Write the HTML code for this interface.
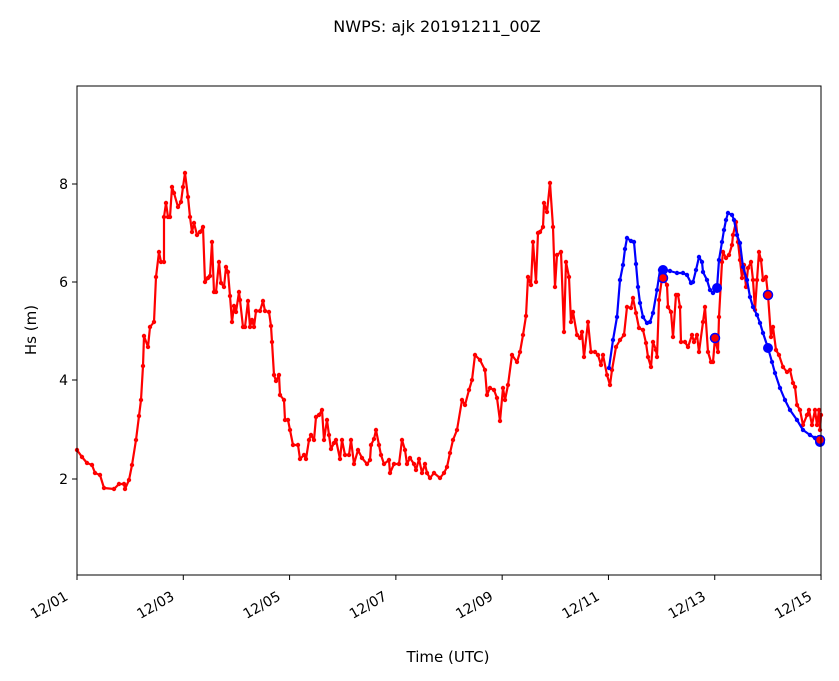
<!DOCTYPE html>
<html><head><meta charset="utf-8"><style>
html,body{margin:0;padding:0;background:#fff;}
svg{display:block;font-family:"DejaVu Sans","Liberation Sans",sans-serif;}
</style></head><body>
<svg id="s" width="839" height="681" xmlns="http://www.w3.org/2000/svg">
<rect width="839" height="681" fill="#fff"/>
<text x="437" y="32" font-size="16" text-anchor="middle">NWPS: ajk 20191211_00Z</text>
<g id="plot"></g>
<rect x="77" y="86" width="744" height="489" fill="none" stroke="#000" stroke-width="1"/>
<g font-size="14" text-anchor="end" fill="#000">
<line x1="72" y1="184" x2="77" y2="184" stroke="#000"/><text x="68" y="189">8</text>
<line x1="72" y1="282" x2="77" y2="282" stroke="#000"/><text x="68" y="287">6</text>
<line x1="72" y1="380" x2="77" y2="380" stroke="#000"/><text x="68" y="385">4</text>
<line x1="72" y1="479" x2="77" y2="479" stroke="#000"/><text x="68" y="484">2</text>
</g>
<g id="xt" font-size="14" text-anchor="end"></g>
<text x="36" y="330" font-size="15" text-anchor="middle" transform="rotate(-90 36 330)">Hs (m)</text>
<text x="448" y="662" font-size="15" text-anchor="middle">Time (UTC)</text>
</svg>
<script>
var red=[[77,450],[82,457],[87,463],[92,465],[95,473],[100,475],[104,488],[114,489],[119,484],[124,484],[125,489],[129,480],[132,465],[136,440],[139,416],[141,400],[143,366],[144,336],[148,347],[150,327],[154,322],[156,277],[159,252],[161,262],[164,262],[164,217],[166,203],[168,217],[170,217],[172,187],[174,193],[178,207],[181,202],[183,187],[185,173],[188,197],[190,217],[192,232],[194,223],[197,235],[200,232],[203,227],[205,282],[208,278],[210,276],[212,242],[214,292],[216,292],[219,262],[221,283],[224,287],[226,267],[228,272],[230,296],[232,322],[234,306],[236,312],[239,292],[240,300],[243,327],[245,327],[248,301],[250,327],[252,320],[254,327],[256,311],[260,311],[263,301],[265,311],[269,312],[271,326],[272,342],[274,375],[276,381],[279,375],[280,395],[284,400],[285,420],[288,420],[290,430],[293,445],[298,445],[300,459],[304,455],[306,459],[309,440],[311,435],[314,440],[316,417],[319,415],[322,410],[324,440],[327,420],[329,435],[331,449],[334,443],[336,440],[340,459],[342,440],[345,455],[349,455],[351,440],[354,464],[358,450],[362,458],[367,464],[370,460],[371,445],[374,439],[376,430],[379,445],[381,455],[384,464],[389,460],[390,473],[394,464],[399,464],[402,440],[405,450],[407,464],[410,458],[414,464],[416,470],[419,459],[422,473],[425,464],[427,473],[430,478],[434,473],[440,478],[444,473],[447,467],[450,453],[453,440],[457,430],[462,400],[465,405],[469,390],[472,380],[475,355],[480,360],[485,370],[487,395],[490,388],[494,390],[497,398],[500,421],[503,388],[505,400],[508,385],[512,355],[517,362],[520,352],[523,335],[526,316],[528,277],[531,285],[533,242],[536,282],[538,233],[540,232],[543,227],[544,203],[547,212],[550,183],[553,227],[555,287],[557,255],[561,252],[564,332],[566,262],[569,277],[571,322],[573,312],[577,335],[580,338],[582,332],[584,357],[588,322],[591,352],[595,352],[598,355],[601,365],[603,355],[607,375],[610,385],[612,370],[616,347],[620,340],[624,335],[627,307],[631,308],[633,298],[636,313],[639,328],[643,330],[646,343],[648,357],[651,367],[653,342],[656,350],[657,357],[659,300],[662,278],[664,280],[667,285],[668,307],[671,312],[673,337],[676,295],[678,295],[680,307],[681,342],[685,342],[688,347],[692,335],[694,342],[697,335],[699,352],[703,322],[705,307],[708,352],[711,362],[713,362],[715,338],[718,352],[719,317],[722,262],[723,252],[726,258],[729,255],[732,245],[733,235],[736,222],[738,242],[740,260],[742,278],[744,265],[746,287],[748,268],[751,262],[753,280],[755,310],[757,280],[759,252],[761,260],[763,280],[766,277],[768,295],[771,337],[773,327],[776,350],[779,355],[783,367],[787,372],[790,370],[793,383],[795,387],[797,405],[800,410],[803,425],[807,415],[809,410],[812,425],[815,410],[817,425],[819,410],[820,430],[821,415]];
var blue=[[609,368],[613,340],[617,317],[620,280],[623,265],[625,249],[627,238],[631,241],[634,242],[636,264],[638,287],[640,303],[643,317],[647,323],[650,322],[653,313],[657,290],[660,270],[663,269],[670,271],[677,273],[683,273],[687,275],[691,283],[693,282],[696,270],[699,257],[702,262],[703,272],[707,280],[710,290],[713,293],[717,288],[719,260],[722,242],[724,230],[726,220],[728,213],[732,215],[734,220],[737,235],[740,243],[743,267],[747,280],[750,297],[753,307],[757,315],[760,323],[763,333],[768,348],[772,362],[775,373],[780,388],[785,400],[790,410],[797,420],[803,430],[810,435],[815,438],[820,442]];
var NS="http://www.w3.org/2000/svg",g=document.getElementById('plot');
function el(t,a){var e=document.createElementNS(NS,t);for(var k in a)e.setAttribute(k,a[k]);g.appendChild(e);return e;}
function series(d,c){el('polyline',{points:d.map(p=>p.join(',')).join(' '),fill:'none',stroke:c,'stroke-width':2.2,'stroke-linejoin':'round'});d.forEach(p=>el('circle',{cx:p[0],cy:p[1],r:2.2,fill:c}));}
series(red,'#f00');series(blue,'#00f');
[[663,270],[717,288],[768,348],[820,442]].forEach(p=>el('circle',{cx:p[0],cy:p[1],r:5,fill:'#00f'}));
[[663,278],[715,338],[768,295],[820,440]].forEach(p=>el('circle',{cx:p[0],cy:p[1],r:4.5,fill:'#f00',stroke:'#00f','stroke-width':1.5}));
var xt=document.getElementById('xt'),labs=['12/01','12/03','12/05','12/07','12/09','12/11','12/13','12/15'];
labs.forEach(function(l,i){var x=77+i*106.29;
var ln=document.createElementNS(NS,'line');ln.setAttribute('x1',x);ln.setAttribute('x2',x);ln.setAttribute('y1',575);ln.setAttribute('y2',580);ln.setAttribute('stroke','#000');xt.appendChild(ln);
var tx=x-8,ty=599;
var t=document.createElementNS(NS,'text');t.setAttribute('x',tx);t.setAttribute('y',ty);t.setAttribute('transform','rotate(-30 '+tx+' '+ty+')');t.textContent=l;xt.appendChild(t);});
</script>
</body></html>
